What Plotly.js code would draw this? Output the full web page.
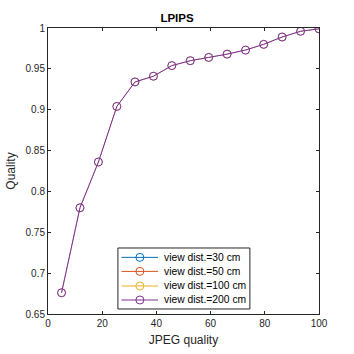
<!DOCTYPE html>
<html>
<head>
<meta charset="utf-8">
<script src="https://cdn.plot.ly/plotly-3.0.1.min.js"></script>
<style>html,body{margin:0;padding:0;background:#fff;}#chart{width:354px;height:354px;}</style>
</head>
<body>
<div id="chart"></div>
<script>
const jpegQuality = [5, 11.8, 18.6, 25.4, 32.1, 38.9, 45.7, 52.5, 59.3, 66.1, 72.9, 79.6, 86.4, 93.2, 100];
const dist30 = [0.676, 0.780, 0.836, 0.904, 0.934, 0.941, 0.954, 0.960, 0.964, 0.968, 0.973, 0.980, 0.989, 0.996, 0.999];
const dist50 = [0.676, 0.780, 0.836, 0.904, 0.934, 0.941, 0.954, 0.960, 0.964, 0.968, 0.973, 0.980, 0.989, 0.996, 0.999];
const dist100 = [0.676, 0.780, 0.836, 0.904, 0.934, 0.941, 0.954, 0.960, 0.964, 0.968, 0.973, 0.980, 0.989, 0.996, 0.999];
const dist200 = [0.676, 0.780, 0.836, 0.904, 0.934, 0.941, 0.954, 0.960, 0.964, 0.968, 0.973, 0.980, 0.989, 0.996, 0.999];
const seriesNames = ["view dist.=30 cm", "view dist.=50 cm", "view dist.=100 cm", "view dist.=200 cm"];
const seriesData = [dist30, dist50, dist100, dist200];
const colors = ["#0072BD", "#D95319", "#EDB120", "#7E2F8E"];

const traces = seriesData.map((ys, i) => {
  const top = i === seriesData.length - 1;
  return {
    x: jpegQuality, y: ys, name: seriesNames[i], type: 'scatter', mode: 'lines+markers',
    line: {color: colors[i], width: top ? 1 : 0.2},
    marker: {symbol: 'circle-open', size: 8, color: colors[i], line: {width: top ? 1 : 0.2, color: colors[i]}},
    showlegend: false
  };
});

const fam = 'Liberation Sans, Arial, sans-serif';
const font = {family: fam, size: 10, color: '#262626'};
const axisCommon = {
  showgrid: false, zeroline: false, showline: true, linecolor: '#262626', linewidth: 1,
  mirror: 'ticks', ticks: 'inside', ticklen: 3, tickcolor: '#262626', tickfont: font
};

// Legend box (MATLAB-style), drawn with shapes + annotations in paper coordinates
const legX0 = 0.258, legX1 = 0.745, legY0 = 0.0175, legY1 = 0.2308;
const legRowY = [0.198, 0.149, 0.098, 0.049];
const lineX0 = 0.271, lineX1 = 0.406, markX = 0.339, textX = 0.420;
const rx = 4 / 271, ry = 4 / 286;
const shapes = [{type: 'rect', xref: 'paper', yref: 'paper', x0: legX0, x1: legX1, y0: legY0, y1: legY1,
  line: {color: '#262626', width: 1}, fillcolor: '#fff', layer: 'above'}];
const annotations = [];
seriesNames.forEach((nm, i) => {
  const y = legRowY[i];
  shapes.push({type: 'line', xref: 'paper', yref: 'paper', x0: lineX0, x1: lineX1, y0: y, y1: y,
    line: {color: colors[i], width: 1}, layer: 'above'});
  shapes.push({type: 'circle', xref: 'paper', yref: 'paper', x0: markX - rx, x1: markX + rx, y0: y - ry, y1: y + ry,
    line: {color: colors[i], width: 1}, fillcolor: 'rgba(0,0,0,0)', layer: 'above'});
  annotations.push({xref: 'paper', yref: 'paper', x: textX, y: y, xanchor: 'left', yanchor: 'middle',
    text: nm, showarrow: false, font: {family: fam, size: 10.3, color: '#000'}});
});

const layout = {
  width: 354, height: 354,
  margin: {l: 48, r: 35, t: 28, b: 40},
  paper_bgcolor: '#fff', plot_bgcolor: '#fff',
  font: font,
  title: {text: '<b>LPIPS</b>', font: {family: fam, size: 11.5, color: '#000'}, x: 0.5, xanchor: 'center',
    y: 1 - 17.5 / 354, yanchor: 'middle'},
  xaxis: Object.assign({}, axisCommon, {range: [0, 100], tickvals: [0, 20, 40, 60, 80, 100],
    title: {text: 'JPEG quality', font: {family: fam, size: 12, color: '#262626'}, standoff: 7}}),
  yaxis: Object.assign({}, axisCommon, {range: [0.65, 1], tickvals: [0.65, 0.7, 0.75, 0.8, 0.85, 0.9, 0.95, 1],
    ticktext: ['0.65', '0.7', '0.75', '0.8', '0.85', '0.9', '0.95', '1'],
    title: {text: 'Quality', font: {family: fam, size: 12, color: '#262626'}, standoff: 7}}),
  showlegend: false,
  shapes: shapes,
  annotations: annotations
};
Plotly.newPlot('chart', traces, layout, {displayModeBar: false, staticPlot: true});
</script>
</body>
</html>
